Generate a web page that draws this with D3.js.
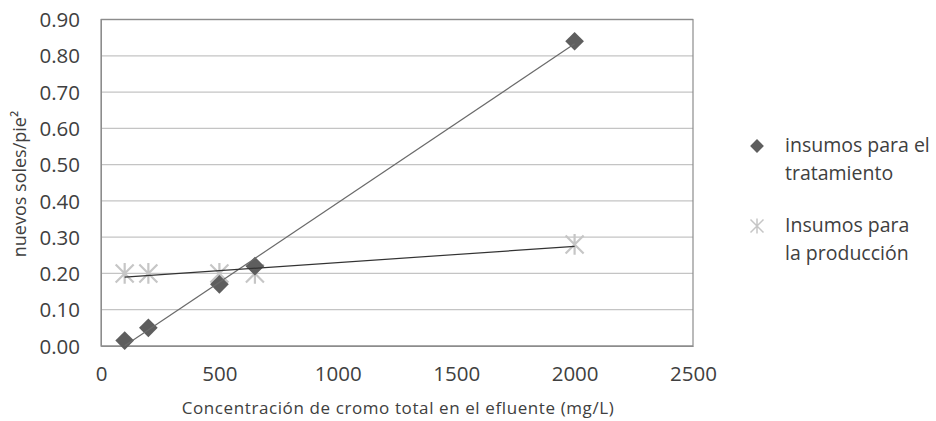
<!DOCTYPE html>
<html><head><meta charset="utf-8">
<script src="https://cdn.jsdelivr.net/npm/d3@7"></script>
<style>body{margin:0;background:#fff}svg{display:block}text{font-family:"Open Sans",sans-serif;fill:#404040}</style>
</head><body>
<svg id="c" width="936" height="421"></svg>
<script>
const concentrations = [100, 200, 500, 650, 2000];
const tratamiento = [0.015, 0.05, 0.17, 0.22, 0.84];
const produccion = [0.20, 0.20, 0.20, 0.20, 0.28];
const seriesNames = [["insumos para el", "tratamiento"], ["Insumos para", "la producción"]];
const yTicks = [0, 0.1, 0.2, 0.3, 0.4, 0.5, 0.6, 0.7, 0.8, 0.9];
const xTicks = [0, 500, 1000, 1500, 2000, 2500];

const svg = d3.select("#c");
const m = {l: 101, t: 19.5, w: 592, h: 326.5};
const x = d3.scaleLinear().domain([0, 2500]).range([m.l, m.l + m.w]);
const y = d3.scaleLinear().domain([0, 0.9]).range([m.t + m.h, m.t]);

// grid
svg.append("g").selectAll("line").data(yTicks).join("line")
  .attr("x1", m.l).attr("x2", m.l + m.w)
  .attr("y1", d => y(d)).attr("y2", d => y(d))
  .attr("stroke", "#c4c4c4").attr("stroke-width", 1.3);
// border
svg.append("rect").attr("x", m.l).attr("y", m.t).attr("width", m.w).attr("height", m.h)
  .attr("fill", "none").attr("stroke", "#8c8c8c").attr("stroke-width", 1.2);

// axes
const yAxis = d3.axisLeft(y).tickValues(yTicks).tickFormat(d3.format(".2f")).tickSize(0).tickPadding(21);
const gy = svg.append("g").attr("transform", `translate(${m.l},0)`).call(yAxis);
gy.select(".domain").attr("stroke", "#8c8c8c");
gy.selectAll("text").style("font-size", "20.5px").attr("fill", "#404040").attr("dy", "0.35em");

const xAxis = d3.axisBottom(x).tickValues(xTicks).tickFormat(d3.format("d")).tickSize(0).tickPadding(20);
const gx = svg.append("g").attr("transform", `translate(0,${m.t + m.h})`).call(xAxis);
gx.select(".domain").attr("stroke", "#8c8c8c");
gx.selectAll("text").style("font-size", "20.5px").attr("fill", "#404040");

// titles
svg.append("text").attr("x", 398).attr("y", 414).attr("text-anchor", "middle")
  .style("font-size", "17px").style("letter-spacing", "0.6px").text("Concentración de cromo total en el efluente (mg/L)");
svg.append("text").attr("transform", "translate(26,184) rotate(-90)").attr("text-anchor", "middle")
  .style("font-size", "18px").text("nuevos soles/pie²");

// regression trendlines
function fit(xs, ys) {
  const mx = d3.mean(xs), my = d3.mean(ys);
  let sxy = 0, sxx = 0;
  xs.forEach((v, i) => { sxy += (v - mx) * (ys[i] - my); sxx += (v - mx) ** 2; });
  const b = sxy / sxx; return [b, my - b * mx];
}
function trend(ys, color) {
  const [b, a] = fit(concentrations, ys);
  const ext = d3.extent(concentrations);
  svg.append("line").attr("x1", x(ext[0])).attr("y1", y(a + b * ext[0]))
    .attr("x2", x(ext[1])).attr("y2", y(a + b * ext[1]))
    .attr("stroke", color).attr("stroke-width", 1.2);
}

const diamond = d3.symbol().type(d3.symbolSquare).size(175);
function asterisk(g, s, color, w) {
  g.append("path").attr("d", `M${-s},${-s}L${s},${s}M${-s},${s}L${s},${-s}M0,${-s*1.15}L0,${s*1.15}`)
    .attr("stroke", color).attr("stroke-width", w).attr("fill", "none");
}

// production markers
produccion.forEach((v, i) => {
  const g = svg.append("g").attr("transform", `translate(${x(concentrations[i])},${y(v)})`);
  asterisk(g, 9, "#c6c6c6", 2.2);
});
// treatment markers
svg.append("g").selectAll("path").data(tratamiento).join("path")
  .attr("d", diamond).attr("fill", "#5e5e5e")
  .attr("transform", (d, i) => `translate(${x(concentrations[i])},${y(d)}) rotate(45)`);

trend(tratamiento, "#6a6a6a");
trend(produccion, "#333333");

// legend
const lg = svg.append("g");
lg.append("path").attr("d", d3.symbol().type(d3.symbolSquare).size(95)).attr("fill", "#5e5e5e")
  .attr("transform", "translate(757,146) rotate(45)");
const ag = lg.append("g").attr("transform", "translate(757,226)");
asterisk(ag, 6.5, "#c6c6c6", 1.5);
[[152, 180], [232, 260]].forEach((ys, k) => {
  ys.forEach((yy, j) => lg.append("text").attr("x", 785).attr("y", yy).style("font-size", "19.5px").text(seriesNames[k][j]));
});
</script>
</body></html>
